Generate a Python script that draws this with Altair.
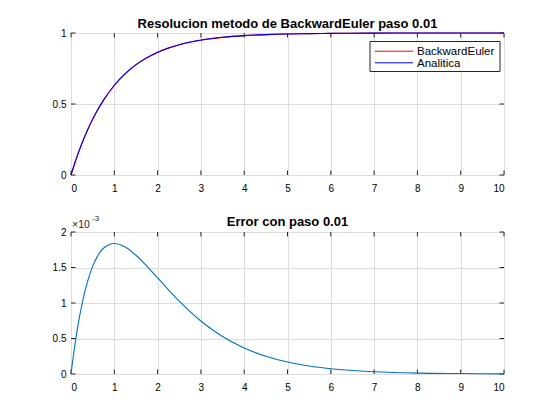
import altair as alt
import pandas as pd

# values
t = [0, 0.1, 0.2, 0.3, 0.4, 0.5, 0.6, 0.75, 1, 1.25, 1.5, 1.75, 2, 2.25, 2.5,
     2.75, 3, 3.25, 3.5, 4, 4.5, 5, 5.5, 6, 7, 8, 9, 10]
analitica = [0, 0.0952, 0.1813, 0.2592, 0.3297, 0.3935, 0.4512, 0.5276, 0.6321,
             0.7135, 0.7769, 0.8262, 0.8647, 0.8946, 0.9179, 0.9361, 0.9502,
             0.9612, 0.9698, 0.9817, 0.9889, 0.9933, 0.9959, 0.9975, 0.9991,
             0.9997, 0.9999, 1.0]
backward = [0, 0.0948, 0.1805, 0.2581, 0.3284, 0.3920, 0.4496, 0.5258, 0.6303,
            0.7117, 0.7752, 0.8247, 0.8633, 0.8934, 0.9169, 0.9352, 0.9495,
            0.9606, 0.9693, 0.9813, 0.9886, 0.9931, 0.9958, 0.9974, 0.9991,
            0.9997, 0.9999, 1.0]
error_e3 = [0, 0.452, 0.819, 1.111, 1.341, 1.516, 1.646, 1.771, 1.839, 1.790,
            1.673, 1.521, 1.353, 1.186, 1.026, 0.879, 0.747, 0.630, 0.528,
            0.366, 0.250, 0.168, 0.112, 0.074, 0.032, 0.013, 0.006, 0.002]

x_ticks = list(range(0, 11))
y1_ticks = [0, 0.5, 1]
y2_ticks = [0, 0.5, 1, 1.5, 2]
series = ["BackwardEuler", "Analitica"]
series_colors = ["#FF0000", "#0000FF"]
title_top = "Resolucion metodo de BackwardEuler paso 0.01"
title_bottom = "Error con paso 0.01"

W, H = 433, 142
TK = 4.5
FONT = "Liberation Sans"
FRAME = "#262626"

df_b = pd.DataFrame({"t": t, "a": backward})
df_a = pd.DataFrame({"t": t, "a": analitica})
df_e = pd.DataFrame({"t": t, "e": error_e3})
xt = pd.DataFrame({"t": x_ticks})
y1t = pd.DataFrame({"a": y1_ticks})
y2t = pd.DataFrame({"e": y2_ticks})

xscale = alt.Scale(domain=[0, 10], nice=False, zero=False)
xaxis = alt.Axis(values=x_ticks, grid=True, ticks=False, domain=False,
                 labelPadding=8, format="d", title=None)


def yaxis(vals):
    return alt.Axis(values=vals, grid=True, ticks=False, domain=False,
                    labelPadding=5, format="~g", title=None,
                    minExtent=30, maxExtent=30)


y1scale = alt.Scale(domain=[0, 1], nice=False, zero=False)
y2scale = alt.Scale(domain=[0, 2], nice=False, zero=False)

X = alt.X("t:Q", scale=xscale, axis=xaxis)
one = pd.DataFrame({"k": [0]})


def text_layer(s, x, y, size, weight="normal", align="left", color=FRAME):
    return alt.Chart(pd.DataFrame({"s": [s]})).mark_text(
        align=align, baseline="alphabetic", fontSize=size, font=FONT,
        fontWeight=weight, color=color).encode(
        x=alt.value(x), y=alt.value(y), text="s:N")


def frame_layers(data, field, yscale, vals):
    Y = alt.Y(f"{field}:Q", scale=yscale, axis=yaxis(vals))
    rule = dict(color=FRAME, strokeWidth=1)
    out = [
        alt.Chart(xt).mark_rule(**rule).encode(x=X, y=alt.value(0), y2=alt.value(TK)),
        alt.Chart(xt).mark_rule(**rule).encode(x=X, y=alt.value(H), y2=alt.value(H - TK)),
        alt.Chart(data).mark_rule(**rule).encode(y=Y, x=alt.value(0), x2=alt.value(TK)),
        alt.Chart(data).mark_rule(**rule).encode(y=Y, x=alt.value(W), x2=alt.value(W - TK)),
    ]
    return out


def anchor_layer(x, y):
    # invisible anchor that fixes the outer bounds of the figure
    return alt.Chart(one).mark_rule(strokeOpacity=0, strokeWidth=1).encode(
        x=alt.value(x), x2=alt.value(x + 1), y=alt.value(y))


Y1 = alt.Y("a:Q", scale=y1scale, axis=yaxis(y1_ticks))
red = alt.Chart(df_b).mark_line(strokeWidth=1.1, interpolate="monotone",
                                color=series_colors[0]).encode(x=X, y=Y1)
blue = alt.Chart(df_a).mark_line(strokeWidth=1.1, interpolate="monotone",
                                 color=series_colors[1]).encode(x=X, y=Y1)

# legend box
LX, LY, LW, LH = 299, 8.5, 130, 30
legend_box = alt.Chart(one).mark_rect(fill="white", stroke=FRAME,
                                      strokeWidth=1).encode(
    x=alt.value(LX), x2=alt.value(LX + LW), y=alt.value(LY), y2=alt.value(LY + LH))
legend_layers = [legend_box]
for i, (name, col) in enumerate(zip(series, series_colors)):
    yy = LY + 9.7 + 11.6 * i
    legend_layers.append(
        alt.Chart(one).mark_rule(color=col, strokeWidth=1).encode(
            x=alt.value(LX + 5), x2=alt.value(LX + 43), y=alt.value(yy)))
    legend_layers.append(text_layer(name, LX + 47, yy + 4, 11.5, color="black"))

top = alt.layer(
    *frame_layers(y1t, "a", y1scale, y1_ticks),
    red, blue,
    *legend_layers,
    text_layer(title_top, W / 2, -5.2, 13, weight="bold", align="center",
               color="black"),
    anchor_layer(-40, -24),
).properties(width=W, height=H)

err = alt.Chart(df_e).mark_line(strokeWidth=1.1, interpolate="monotone",
                                color="#0072BD").encode(
    x=X, y=alt.Y("e:Q", scale=y2scale, axis=yaxis(y2_ticks)))

bottom = alt.layer(
    *frame_layers(y2t, "e", y2scale, y2_ticks),
    err,
    text_layer("×10", 1, -4, 10.5),
    text_layer("-3", 21, -11, 8),
    text_layer(title_bottom, W / 2, -6, 13, weight="bold", align="center",
               color="black"),
).properties(width=W, height=H)

chart = alt.vconcat(top, bottom, spacing=57, bounds="flush").properties(
    padding={"left": 22, "top": 0, "right": 5, "bottom": 5}
).configure_view(
    stroke=FRAME, strokeWidth=1
).configure_axis(
    labelFont=FONT, labelFontSize=11, labelColor=FRAME,
    gridColor="#dfdfdf", gridWidth=1
).configure(background="white")

chart.save("out.html", embed_options={"renderer": "svg", "actions": False})
